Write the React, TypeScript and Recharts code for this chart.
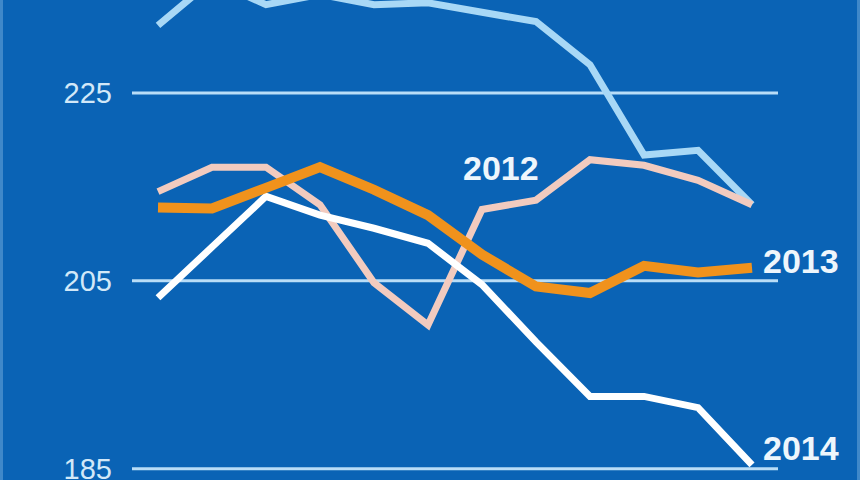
import React from "react";
import { LineChart, Line, XAxis, YAxis, ReferenceLine, LabelList } from "recharts";

const months = ["Jan", "Feb", "Mar", "Apr", "May", "Jun", "Jul", "Aug", "Sep", "Oct", "Nov", "Dec"];
const s2011 = [232.2, 237.0, 234.4, 235.5, 234.4, 234.6, 233.6, 232.6, 228.0, 218.4, 218.9, 213.1];
const s2012 = [214.5, 217.1, 217.1, 213.1, 204.8, 200.3, 212.6, 213.6, 217.9, 217.3, 215.7, 213.1];
const s2013 = [212.8, 212.7, 214.9, 217.1, 214.7, 212.0, 207.8, 204.4, 203.7, 206.6, 205.9, 206.4];
const s2014 = [203.2, 208.6, 214.0, 212.0, 210.6, 209.0, 204.6, 198.5, 192.7, 192.7, 191.5, 185.4];
const yTicks = [185, 205, 225];

const data = months.map((m, i) => ({
  month: m,
  y2011: s2011[i],
  y2012: s2012[i],
  y2013: s2013[i],
  y2014: s2014[i],
}));

const labelFont = "'Liberation Sans', Arial, sans-serif";

const YTick = (props: any) => {
  const { x, y, payload } = props;
  return (
    <text x={x - 12} y={y} dy={10} textAnchor="end" fill="#d2e8f8" fontSize={29} fontFamily={labelFont}>
      {payload.value}
    </text>
  );
};

const makeLabel = (text: string, idx: number, dx: number, dy: number) => (props: any) => {
  const { x, y, index } = props;
  if (index !== idx) return null;
  return (
    <text x={x + dx} y={y + dy} fill="#eef6fc" fontSize={34} fontWeight="bold" fontFamily={labelFont}>
      {text}
    </text>
  );
};

export default function App() {
  return (
    <div
      style={{
        position: "absolute",
        left: 0,
        top: 0,
        width: 860,
        height: 480,
        background: "#0a63b5",
        boxShadow: "inset 3px 0 0 #3f88c9, inset -3px 0 0 #3f88c9",
        overflow: "hidden",
      }}
    >
      <LineChart width={860} height={480} data={data} margin={{ top: 0, right: 82, bottom: 0, left: 0 }}>
        <XAxis dataKey="month" hide padding={{ left: 26, right: 26 }} />
        <YAxis
          width={132}
          domain={[183.8, 234.9]}
          allowDataOverflow
          ticks={yTicks}
          axisLine={false}
          tickLine={false}
          tick={<YTick />}
          interval={0}
        />
        {yTicks.map((t) => (
          <ReferenceLine key={t} y={t} stroke="#b9ddf7" strokeWidth={3} />
        ))}
        <Line type="linear" dataKey="y2011" stroke="#a8d8f6" strokeWidth={7} dot={false} isAnimationActive={false} />
        <Line type="linear" dataKey="y2012" stroke="#f2cbbf" strokeWidth={7} dot={false} isAnimationActive={false}>
          <LabelList dataKey="y2012" content={makeLabel("2012", 6, -19, -29)} />
        </Line>
        <Line type="linear" dataKey="y2014" stroke="#ffffff" strokeWidth={7} dot={false} isAnimationActive={false}>
          <LabelList dataKey="y2014" content={makeLabel("2014", 11, 11, -5)} />
        </Line>
        <Line type="linear" dataKey="y2013" stroke="#f0921c" strokeWidth={10} dot={false} isAnimationActive={false}>
          <LabelList dataKey="y2013" content={makeLabel("2013", 11, 11, 5)} />
        </Line>
      </LineChart>
    </div>
  );
}
